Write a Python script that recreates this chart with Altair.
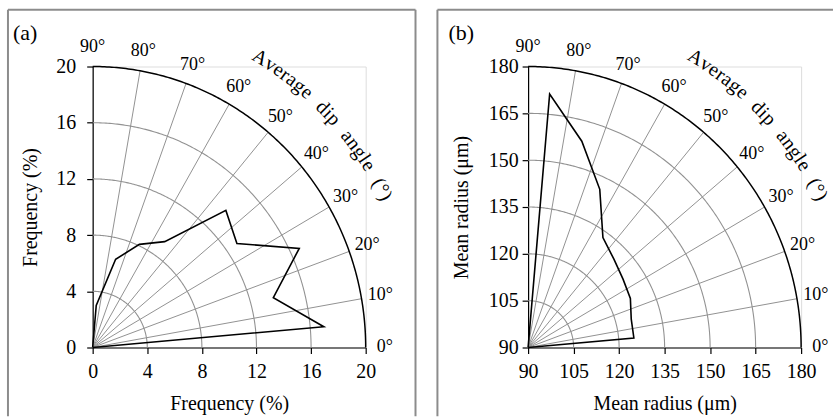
import math
import altair as alt
import pandas as pd

# ---------------- data ----------------
A_ANGLES = [85, 75, 65, 55, 45, 35, 25, 15, 5]
A_FREQ = [3.0, 6.5, 8.1, 9.2, 13.8, 12.9, 16.7, 13.7, 17.0]
A_TICKS = [0, 4, 8, 12, 16, 20]
A_RINGS = [4, 8, 12, 16]

B_ANGLES = [85, 75, 65, 55, 45, 35, 25, 15, 5]
B_RADIUS = [171.5, 158.4, 145.9, 133.0, 130.0, 128.2, 127.2, 125.2, 125.0]
B_TICKS = [90, 105, 120, 135, 150, 165, 180]
B_RINGS = [105, 120, 135, 150, 165]

DIP_LABELS = [0, 10, 20, 30, 40, 50, 60, 70, 80, 90]
SPOKES = [10, 20, 30, 40, 50, 60, 70, 80]
ARC_TITLE = "Average dip angle (°)"

FONT = "Liberation Serif"
W, H = 274, 282
GRID = "#929292"
FRAME = "#8c8c8c"

CHAR_W = {"A": .722, "v": .5, "e": .444, "r": .333, "a": .444, "g": .5, " ": .55,
          "d": .5, "i": .278, "p": .5, "n": .5, "l": .278, "(": .333, "°": .4, ")": .333}


def pol(rmin, rf="datum.v", af="datum.a"):
    return (f"{rmin} + ({rf} - {rmin}) * cos({af} * PI / 180)",
            f"{rmin} + ({rf} - {rmin}) * sin({af} * PI / 180)")


def panel(angles, values, rmin, rmax, ticks, rings, title, tag, frame_left, frame_right,
          draw_right, ylab_pad, ytitle_pad):
    span = rmax - rmin
    xs = alt.Scale(domain=[rmin, rmax], nice=False, zero=False)
    ys = alt.Scale(domain=[rmin, rmax], nice=False, zero=False)
    common = dict(grid=False, domainColor="black", tickColor="black", tickSize=6,
                  labelFont=FONT, labelFontSize=20, labelColor="black",
                  titleFont=FONT, titleFontSize=20, titleFontWeight="normal",
                  titleColor="black", domainWidth=1.2, tickWidth=1.2)
    ax_x = alt.Axis(values=ticks, title=title, labelPadding=8, titlePadding=12,
                    labelFlush=False, labelOverlap=False, **common)
    ax_y = alt.Axis(values=ticks, title=title, labelPadding=ylab_pad, titlePadding=ytitle_pad,
                    labelOverlap=False, **common)

    def X(f):
        return alt.X(f, scale=xs, axis=ax_x)

    def Y(f):
        return alt.Y(f, scale=ys, axis=ax_y)

    # rings
    ring_rows = []
    for rv in rings + [rmax]:
        for t in range(0, 181):
            ring_rows.append({"v": rv, "a": t * 0.5, "outer": rv == rmax})
    ring_df = pd.DataFrame(ring_rows)
    px, py = pol(rmin)
    ring_base = alt.Chart(ring_df).transform_calculate(px=px, py=py)
    inner = ring_base.transform_filter("!datum.outer").mark_line(color=GRID, strokeWidth=1.1).encode(
        x=X("px:Q"), y=Y("py:Q"), detail="v:N", order="a:Q")
    outer = ring_base.transform_filter("datum.outer").mark_line(color="black", strokeWidth=1.5).encode(
        x=X("px:Q"), y=Y("py:Q"), order="a:Q")

    # spokes
    sp_df = pd.DataFrame({"a": SPOKES})
    qx, qy = pol(rmin, rf=str(rmax))
    spokes = alt.Chart(sp_df).transform_calculate(px=str(rmin), py=str(rmin), qx=qx, qy=qy).mark_rule(
        color=GRID, strokeWidth=1.0).encode(
        x=X("px:Q"), y=Y("py:Q"), x2="qx:Q", y2="qy:Q")

    # data polygon
    df = pd.DataFrame({"a": [90] + angles + [0], "v": [rmin] + values + [rmin],
                       "o": list(range(len(angles) + 2))})
    poly = alt.Chart(df).transform_calculate(px=px, py=py).mark_line(
        color="black", strokeWidth=1.6).encode(
        x=X("px:Q"), y=Y("py:Q"), order="o:Q")

    # angle labels
    lab_df = pd.DataFrame({"a": DIP_LABELS, "t": [f"{d}°" for d in DIP_LABELS]})
    lx, ly = pol(rmin, rf=str(rmin + 1.07 * span))
    labels = alt.Chart(lab_df).transform_calculate(px=lx, py=ly).mark_text(
        font=FONT, fontSize=18, color="black", align="center", baseline="middle").encode(
        x=X("px:Q"), y=Y("py:Q"), text="t:N")

    # curved title
    fs = 20
    track = 0.5
    r_px = 1.2 * (W + H) / 2
    cum, centers = 0.0, []
    for ch in ARC_TITLE:
        w = CHAR_W.get(ch, .5) * fs + track
        centers.append(cum + w / 2)
        cum += w
    start = 59.3
    ct = pd.DataFrame({
        "c": list(ARC_TITLE),
        "a": [start - math.degrees((c - centers[0]) / r_px) for c in centers],
    })
    ct["rot"] = 90 - ct["a"]
    cx, cy = pol(rmin, rf=str(rmin + 1.2 * span))
    curved = alt.Chart(ct).transform_calculate(px=cx, py=cy).mark_text(
        font=FONT, fontSize=fs, color="black", align="center", baseline="middle").encode(
        x=X("px:Q"), y=Y("py:Q"), text="c:N", angle=alt.Angle("rot:Q", scale=None))

    # panel tag
    tag_l = alt.Chart(pd.DataFrame({"t": [tag]})).mark_text(
        font=FONT, fontSize=22, color="black", align="left", baseline="middle").encode(
        x=alt.value(-80), y=alt.value(-34), text="t:N")

    # frame
    fr = alt.Chart(pd.DataFrame({"k": [0]}))
    top = -57
    bottom = 351
    frames = [
        fr.mark_rule(color=FRAME, strokeWidth=2).encode(
            x=alt.value(frame_left), y=alt.value(top), y2=alt.value(bottom)),
        fr.mark_rule(color=FRAME, strokeWidth=2).encode(
            x=alt.value(frame_left), x2=alt.value(frame_right), y=alt.value(top)),
    ]
    if draw_right:
        frames.append(fr.mark_rule(color=FRAME, strokeWidth=2).encode(
            x=alt.value(frame_right), y=alt.value(top), y2=alt.value(bottom)))

    return alt.layer(inner, spokes, outer, labels, curved, tag_l, *frames, poly).properties(
        width=W, height=H)


pa = panel(A_ANGLES, A_FREQ, 0, 20, A_TICKS, A_RINGS, "Frequency (%)", "(a)", -85, 324, True,
           ylab_pad=11, ytitle_pad=15)
pb = panel(B_ANGLES, B_RADIUS, 90, 180, B_TICKS, B_RINGS, "Mean radius (μm)", "(b)", -91, 306, False,
           ylab_pad=4, ytitle_pad=17)

chart = alt.hconcat(pa, pb, spacing=18).properties(
    padding={"left": 6, "top": 7, "right": 0, "bottom": 0}
).configure_view(stroke=None).configure(background="white")

chart.save("out.html", embed_options={"renderer": "svg", "actions": False})
